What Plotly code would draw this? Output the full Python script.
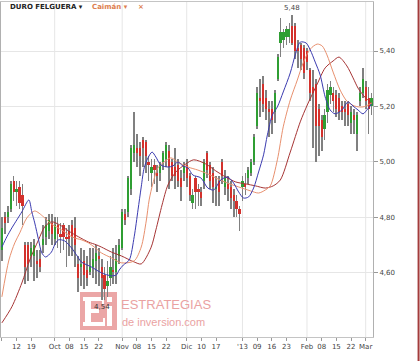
import pandas as pd
import plotly.graph_objects as go

# ---------------- data ----------------
holidays = ["2012-12-25", "2012-12-26", "2013-01-01"]
days = [d for d in pd.bdate_range("2012-09-05", "2013-03-05").strftime("%Y-%m-%d") if d not in holidays]

opens = [4.68,4.80,4.80,4.83,4.93,4.89,4.91,4.88,4.70,4.70,4.66,4.66,4.64,4.65,4.70,4.73,4.75,4.78,4.72,4.77,
         4.74,4.77,4.73,4.75,4.77,4.76,4.63,4.62,4.64,4.61,4.60,4.62,4.64,4.66,4.62,4.59,4.55,4.58,4.61,4.60,
         4.66,4.69,4.81,4.82,4.90,5.03,5.05,5.05,5.08,5.07,5.00,4.96,4.99,4.96,4.96,5.00,5.01,5.04,5.00,4.98,
         4.99,4.94,4.96,4.99,4.95,4.85,4.94,4.90,4.89,4.93,5.03,4.99,4.96,4.90,4.93,5.00,4.91,4.92,4.91,4.88,
         4.86,4.83,4.91,4.92,4.94,4.96,5.00,5.13,5.23,5.28,5.23,5.19,5.19,5.18,5.30,5.43,5.44,5.45,5.45,5.49,
         5.49,5.41,5.42,5.41,5.40,5.33,5.27,5.28,5.19,5.15,5.12,5.18,5.24,5.25,5.24,5.23,5.20,5.19,5.21,5.14,
         5.17,5.10,5.22,5.25,5.27,5.23,5.20]
highs = [4.80,4.82,4.84,4.93,4.95,4.93,4.93,4.92,4.71,4.71,4.71,4.72,4.68,4.68,4.77,4.80,4.81,4.81,4.80,4.80,
         4.78,4.78,4.76,4.77,4.79,4.80,4.66,4.69,4.68,4.66,4.69,4.69,4.70,4.69,4.65,4.62,4.64,4.66,4.69,4.70,
         4.72,4.83,4.83,4.95,5.06,5.18,5.10,5.07,5.09,5.08,5.02,5.01,5.01,4.99,5.00,5.04,5.07,5.06,5.01,5.05,
         5.01,4.97,5.00,5.01,4.96,4.90,4.95,4.92,4.91,5.01,5.04,5.00,4.98,4.95,4.95,5.01,4.97,4.95,4.93,4.90,
         4.88,4.84,4.95,4.96,4.98,5.01,5.10,5.27,5.30,5.31,5.26,5.22,5.22,5.26,5.39,5.52,5.48,5.49,5.50,5.53,
         5.50,5.44,5.43,5.42,5.41,5.34,5.33,5.30,5.21,5.17,5.19,5.28,5.29,5.27,5.26,5.25,5.22,5.22,5.22,5.20,
         5.19,5.18,5.27,5.34,5.29,5.27,5.25]
lows = [4.64,4.74,4.78,4.82,4.86,4.84,4.83,4.77,4.56,4.57,4.62,4.57,4.58,4.60,4.67,4.70,4.72,4.70,4.70,4.69,
        4.67,4.68,4.62,4.66,4.66,4.62,4.53,4.55,4.54,4.55,4.59,4.58,4.56,4.55,4.50,4.50,4.51,4.55,4.56,4.56,
        4.63,4.68,4.77,4.80,4.88,5.00,4.98,4.95,4.98,4.96,4.93,4.91,4.92,4.89,4.93,4.97,4.98,4.90,4.93,4.90,
        4.91,4.86,4.93,4.91,4.86,4.83,4.83,4.84,4.84,4.90,4.94,4.90,4.85,4.84,4.84,4.92,4.88,4.86,4.83,4.80,
        4.80,4.75,4.86,4.88,4.92,4.95,4.99,5.12,5.16,5.18,5.15,5.09,5.10,5.14,5.29,5.38,5.41,5.42,5.43,5.42,
        5.37,5.34,5.33,5.30,5.33,5.22,5.05,5.00,5.02,5.04,5.08,5.14,5.21,5.18,5.16,5.15,5.15,5.13,5.13,5.10,
        5.10,5.04,5.20,5.23,5.19,5.10,5.17]
closes = [4.76,4.78,4.82,4.92,4.89,4.90,4.85,4.84,4.62,4.63,4.69,4.70,4.63,4.62,4.72,4.77,4.79,4.74,4.77,4.74,
          4.73,4.73,4.72,4.72,4.73,4.70,4.58,4.63,4.59,4.58,4.62,4.65,4.67,4.65,4.58,4.54,4.57,4.62,4.60,4.65,
          4.70,4.82,4.79,4.94,5.05,5.06,5.03,5.02,5.05,5.02,4.99,4.98,4.97,4.95,4.99,5.03,5.06,4.98,4.95,4.95,
          4.93,4.91,4.99,4.94,4.88,4.88,4.89,4.89,4.87,5.00,4.97,4.93,4.91,4.91,4.89,4.95,4.94,4.90,4.87,4.86,
          4.83,4.81,4.93,4.91,4.97,5.00,5.09,5.25,5.22,5.21,5.19,5.18,5.15,5.25,5.38,5.47,5.47,5.48,5.48,5.43,
          5.40,5.40,5.37,5.32,5.36,5.25,5.25,5.13,5.13,5.09,5.17,5.26,5.27,5.22,5.19,5.18,5.18,5.18,5.17,5.18,
          5.15,5.17,5.25,5.30,5.22,5.19,5.23]

# moving averages (position in trading days, value)
ma_short_x = [0,1.7,3.4,5.1,6.8,9.2,10.2,11.2,12.5,13.6,14.9,16.9,18.0,19.3,21.4,23.7,25.4,27.1,30.5,33.9,
              37.3,39.0,40.0,41.4,43.4,45.1,46.4,47.5,48.5,49.8,51.2,52.5,54.2,56.6,58.3,60.0,61.7,63.4,65.1,67.8,
              70.2,72.2,74.6,76.9,79.0,80.7,82.4,84.1,85.8,87.5,89.2,90.5,92.2,93.9,95.9,98.3,100.0,101.7,103.7,105.1,
              106.8,108.5,110.2,111.9,113.6,115.9,118.0,119.7,121.4,123.1,124.7,126.1]
ma_short_y = [4.692,4.729,4.761,4.790,4.819,4.862,4.819,4.779,4.718,4.671,4.656,4.674,4.700,4.718,4.714,4.689,4.664,4.638,4.620,4.599,
              4.588,4.591,4.609,4.627,4.645,4.729,4.826,4.909,4.978,5.014,5.035,5.017,4.988,4.981,4.985,4.999,4.985,4.978,4.952,4.942,
              4.905,4.898,4.934,4.945,4.923,4.891,4.869,4.873,4.905,4.963,5.025,5.097,5.169,5.198,5.252,5.321,5.386,5.432,5.429,5.404,
              5.360,5.313,5.234,5.187,5.173,5.187,5.216,5.201,5.187,5.173,5.191,5.209]
ma_mid_x = [0,2.4,4.4,6.1,8.5,11.2,14.2,16.9,20.3,22.7,24.7,27.1,29.5,31.5,33.9,37.3,40.7,45.1,47.5,49.2,
            50.2,51.5,53.2,55.3,57.6,60.0,63.4,66.8,70.2,73.6,76.9,80.7,84.7,87.5,89.8,91.5,93.9,95.9,98.3,100.7,
            102.7,105.1,107.5,109.2,110.8,112.9,115.3,117.6,120.3,123.1,126.1]
ma_mid_y = [4.512,4.645,4.707,4.743,4.797,4.822,4.801,4.775,4.754,4.736,4.725,4.718,4.707,4.692,4.671,4.653,4.635,4.642,4.692,4.786,
            4.862,4.923,4.978,4.999,5.014,4.999,4.981,4.970,4.956,4.938,4.923,4.909,4.895,4.887,4.898,4.913,5.007,5.126,5.223,5.295,
            5.357,5.407,5.425,5.418,5.386,5.324,5.259,5.219,5.201,5.198,5.212]
ma_long_x = [0,3.4,6.8,9.5,12.5,14.6,16.9,19.7,22.7,26.1,29.5,32.2,33.9,37.3,40.7,45.1,47.5,50.8,52.5,54.6,
             56.6,59.3,62.7,65.4,69.5,72.9,76.3,79.7,83.1,86.4,89.8,92.5,94.9,98.3,101.7,104.1,107.5,110.2,112.9,114.9,
             117.6,119.7,121.4,123.1,124.7,126.1]
ma_long_y = [4.418,4.476,4.562,4.645,4.718,4.765,4.783,4.772,4.750,4.729,4.710,4.700,4.692,4.674,4.660,4.638,4.631,4.689,4.754,4.844,
             4.916,4.963,4.992,5.007,4.992,4.967,4.945,4.927,4.920,4.913,4.905,4.913,4.934,5.035,5.144,5.205,5.281,5.339,5.364,5.378,
             5.346,5.303,5.266,5.241,5.223,5.209]

tick_dates = ["2012-09-05","2012-09-12","2012-09-19","2012-10-01","2012-10-08","2012-10-15","2012-10-22",
              "2012-11-01","2012-11-08","2012-11-15","2012-11-22","2012-12-03","2012-12-10","2012-12-17",
              "2013-01-02","2013-01-09","2013-01-16","2013-01-23","2013-02-01","2013-02-08","2013-02-15",
              "2013-02-22","2013-03-01"]
tick_text = ["05","12","19","Oct","08","15","22","Nov","08","15","22","Dic","10","17",
             "'13","09","16","23","Feb","08","15","22","Mar"]
month_dates = ["2012-10-01","2012-11-01","2012-12-03","2013-01-02","2013-02-01","2013-03-01"]
y_ticks = [4.6, 4.8, 5.0, 5.2, 5.4]
max_label = "5,48"
min_label = "4,54"

# ---------------- figure ----------------
idx = list(range(len(days)))
pos = {d: i for i, d in enumerate(days)}
GREEN, RED, WICK = "#2f9e33", "#d3312c", "#808080"

body_base = [min(o, c) for o, c in zip(opens, closes)]
body_h = [max(abs(c - o), 0.004) for o, c in zip(opens, closes)]
body_col = [GREEN if c >= o else RED for o, c in zip(opens, closes)]

fig = go.Figure()
fig.add_trace(go.Bar(x=idx, y=[h - l for h, l in zip(highs, lows)], base=lows, width=0.26,
                     marker=dict(color=WICK, line=dict(width=0)), hoverinfo="skip"))
fig.add_trace(go.Bar(x=idx, y=body_h, base=body_base, width=0.75,
                     marker=dict(color=body_col, line=dict(width=0)), hoverinfo="skip"))
for xs, ys, col in [(ma_long_x, ma_long_y, "#a63434"), (ma_mid_x, ma_mid_y, "#e8906e"),
                    (ma_short_x, ma_short_y, "#3b3bb0")]:
    fig.add_trace(go.Scatter(x=xs, y=ys, mode="lines",
                             line=dict(color=col, width=1, shape="spline", smoothing=0.8), hoverinfo="skip"))

xr = [-0.3, 126.5]
yr = [4.367, 5.577]
font_ax = dict(family="DejaVu Sans", size=7, color="#444")
fig.update_layout(
    width=420, height=361, margin=dict(l=1, r=47, t=2, b=24),
    paper_bgcolor="white", plot_bgcolor="white", showlegend=False,
    barmode="overlay", bargap=0, separators=",.",
    xaxis=dict(range=xr, tickmode="array", tickvals=[pos[d] for d in tick_dates], ticktext=tick_text,
               showgrid=False, zeroline=False, ticks="outside", ticklen=3, tickcolor="#999",
               showline=True, linecolor="#c4c4c4", linewidth=1, mirror=True, tickfont=font_ax),
    yaxis=dict(range=yr, side="right", tickmode="array", tickvals=y_ticks, tickformat=".2f",
               showgrid=True, gridcolor="#e6e6e6", zeroline=False, ticks="outside", ticklen=4,
               tickcolor="#999", showline=True, linecolor="#b0b0b0", mirror=True, tickfont=font_ax),
)

imax = max(idx, key=lambda i: highs[i])
imin = min(idx, key=lambda i: lows[i])
ann = [
    dict(x=imax, y=highs[imax], text=max_label, yanchor="bottom", yshift=1, showarrow=False,
         font=dict(family="DejaVu Sans", size=7, color="#444")),
    dict(x=imin, y=lows[imin], text=min_label, yanchor="top", yshift=-1, showarrow=False,
         font=dict(family="DejaVu Sans", size=7, color="#333")),
    dict(xref="paper", yref="paper", x=0.019, y=0.985, xanchor="left", yanchor="middle", showarrow=False,
         text="<b>DURO FELGUERA ▾</b>", font=dict(family="DejaVu Sans", size=7, color="#222")),
    dict(xref="paper", yref="paper", x=0.239, y=0.985, xanchor="left", yanchor="middle", showarrow=False,
         text="<b>Caimán ▾</b>", font=dict(family="DejaVu Sans", size=7, color="#dd8050")),
    dict(xref="paper", yref="paper", x=0.362, y=0.985, xanchor="left", yanchor="middle", showarrow=False,
         text="<b>×</b>", font=dict(family="DejaVu Sans", size=7, color="#dd8050")),
    dict(xref="paper", yref="paper", x=0.317, y=0.096, xanchor="left", yanchor="middle", showarrow=False,
         text="ESTRATEGIAS", font=dict(family="Liberation Sans", size=13, color="#eaa2a2")),
    dict(xref="paper", yref="paper", x=0.319, y=0.045, xanchor="left", yanchor="middle", showarrow=False,
         text="de inversion.com", font=dict(family="Liberation Sans", size=11, color="#eaa2a2")),
]


def px_rect(x0, y0, x1, y1, color):
    # watermark decoration placed in figure pixels (plot area: left 1px, width 372px, top 2px, height 335px)
    return dict(type="rect", xref="paper", yref="paper",
                x0=(x0 - 1) / 372, x1=(x1 - 1) / 372, y0=(337 - y1) / 335, y1=(337 - y0) / 335,
                fillcolor=color, line=dict(width=0), layer="below")


shapes = [dict(type="line", xref="x", yref="paper", x0=pos[d], x1=pos[d], y0=0, y1=1,
               line=dict(color="#e6e6e6", width=1), layer="below") for d in month_dates]
shapes.append(px_rect(80, 292, 117, 330, "#eba6a6"))
# white "Ei" letters of the watermark
shapes += [
    px_rect(85, 297, 91, 326, "white"),
    px_rect(83, 297, 104, 301, "white"),
    px_rect(102, 297, 104, 304, "white"),
    px_rect(85, 309, 99, 313, "white"),
    px_rect(83, 322, 105, 326, "white"),
    px_rect(103, 318, 105, 326, "white"),
    px_rect(107, 297, 112, 302, "white"),
    px_rect(107, 306, 112, 326, "white"),
]
shapes.append(dict(type="line", xref="paper", yref="paper", x0=1.1225, x1=1.1225, y0=-0.08, y1=1.01,
                   line=dict(color="#a33c3c", width=2)))
fig.update_layout(annotations=ann, shapes=shapes)

fig.write_html("out.html")
